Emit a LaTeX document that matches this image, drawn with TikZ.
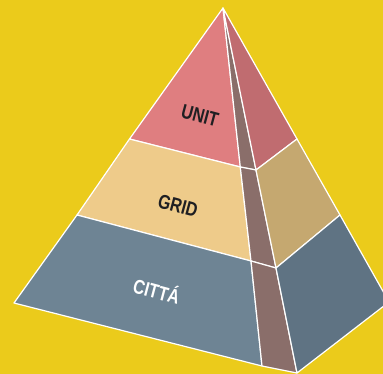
\documentclass[tikz,border=0pt]{standalone}
\usepackage{fontspec}
\newfontfamily\lab[FakeStretch=0.8]{Liberation Sans}
\definecolor{bg}{HTML}{EBCB1B}
\definecolor{pinkF}{HTML}{DF7E80}
\definecolor{pinkR}{HTML}{C06C70}
\definecolor{strip}{HTML}{8A6E6A}
\definecolor{sandF}{HTML}{EECB8A}
\definecolor{sandR}{HTML}{C5A870}
\definecolor{blueF}{HTML}{6E8494}
\definecolor{blueR}{HTML}{5F7383}
\definecolor{ink}{HTML}{1F1F22}
\begin{document}
\begin{tikzpicture}[x=1pt,y=-1pt,
  face/.style={draw=white,line width=1.2pt,line join=round},
  lbl/.style={font=\lab\bfseries\fontsize{20}{20}\selectfont,rotate=-15,inner sep=0pt}]
\fill[bg] (0,0) rectangle (383,374);
\useasboundingbox (0,0) rectangle (383,374);
\begin{scope}
\clip (0,0) rectangle (383,374);
\coordinate (A) at (223,8);
\coordinate (BL) at (14,303);
\coordinate (FR) at (262,366);
\coordinate (SR) at (297,373);
\coordinate (RC) at (389,302);
\coordinate (L1) at (129.5,139);
\coordinate (L2) at (77,215);
\coordinate (F1) at (240.3,167);
\coordinate (F2) at (251,261);
\coordinate (S1) at (256,170);
\coordinate (S2) at (276,268);
\coordinate (R1) at (297,139);
\coordinate (R2) at (340,215);
% top band
\filldraw[face,fill=pinkF] (A) -- (L1) -- (F1) -- cycle;
\filldraw[face,fill=strip] (A) -- (F1) -- (S1) -- cycle;
\filldraw[face,fill=pinkR] (A) -- (S1) -- (R1) -- cycle;
% middle band
\filldraw[face,fill=sandF] (L1) -- (L2) -- (F2) -- (F1) -- cycle;
\filldraw[face,fill=strip] (F1) -- (F2) -- (S2) -- (S1) -- cycle;
\filldraw[face,fill=sandR] (S1) -- (S2) -- (R2) -- (R1) -- cycle;
% bottom band
\filldraw[face,fill=blueF] (L2) -- (BL) -- (FR) -- (F2) -- cycle;
\filldraw[face,fill=strip] (F2) -- (FR) -- (SR) -- (S2) -- cycle;
\filldraw[face,fill=blueR] (S2) -- (SR) -- (RC) -- (R2) -- cycle;
\end{scope}
\node[lbl,text=ink] (unit) at (200,116) {UNIT};
\node[lbl,text=ink] (grid) at (178,206) {GRID};
\node[lbl,text=white] (citta) at (157,290) {CITTÁ};
\end{tikzpicture}
\end{document}
